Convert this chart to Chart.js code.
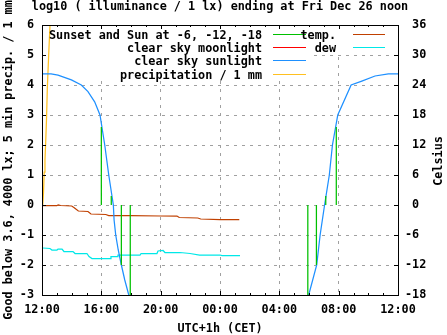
<!DOCTYPE html>
<html>
<head>
<meta charset="utf-8">
<script src="https://cdn.jsdelivr.net/npm/chart.js@4"></script>
<style>
  html, body { margin: 0; padding: 0; background: #fff; }
  canvas { display: block; }
</style>
</head>
<body>
<canvas id="myChart" width="447" height="335"></canvas>
<script>
const FONT = '"DejaVu Sans Mono", "Liberation Mono", monospace';
const FS = 11.8;

// x values are hours after Thu Dec 25 12:00 (CET)
var sunHours = [0, 0.61, 1.08, 1.98, 2.65, 3.10, 3.55, 3.91, 4.23, 4.50, 4.81, 4.86, 4.97, 5.14, 5.35, 5.58, 5.85, 6.0,
                17.85, 17.98, 18.52, 18.75, 19.05, 19.37, 19.58, 19.94, 20.84, 21.56, 22.45, 23.35, 24];
var sunLog = [4.37, 4.37, 4.33, 4.17, 4.0, 3.78, 3.44, 3.0, 2.0, 1.0, 0, -0.5, -1.0, -1.5, -2.0, -2.5, -3.0, -3.4,
              -3.4, -3.0, -2.0, -1.0, 0, 1.0, 2.0, 3.0, 4.0, 4.13, 4.30, 4.37, 4.37];

var moonHours = [];
var moonLog = [];

var precipHours = [0.05, 0.10, 0.15, 0.20, 0.25, 0.30, 0.36, 0.45, 0.54, 0.60];
var precipMm = [0, 0.4, 1.1, 1.5, 2.1, 2.8, 3.9, 5.0, 6.0, 6.6];

// sunset, sun at -6, -12, -18 and back up in the morning
var twilightHours = [4.00, 4.67, 5.35, 5.95, 17.92, 18.50, 19.13, 19.84];
var twilightLog = [2.6, 0.3, -2.0, -3.3, -3.3, -2.0, 0.3, 2.6];

var tempHours = [0, 1.0, 1.1, 1.25, 2.0, 2.15, 2.45, 3.1, 3.3, 4.3, 4.5, 6.0, 8.0, 9.1, 9.25, 10.5, 10.7, 12.0, 13.3];
var tempC = [-0.1, -0.1, 0.0, -0.1, -0.2, -0.5, -1.2, -1.3, -1.8, -1.9, -2.1, -2.1, -2.2, -2.2, -2.5, -2.6, -2.8, -2.9, -2.9];

var dewHours = [0.07, 0.54, 0.67, 1.01, 1.08, 1.35, 1.48, 2.09, 2.23, 3.03, 3.17, 3.37, 4.59, 4.65, 5.06, 5.12, 6.61, 6.68,
                7.75, 7.82, 8.16, 8.29, 9.3, 9.98, 10.62, 12.0, 12.14, 13.35];
var dewC = [-8.6, -8.7, -9.0, -9.0, -8.8, -8.8, -9.3, -9.3, -9.7, -9.7, -10.3, -10.7, -10.7, -10.3, -10.3, -10.0, -10.0, -9.7,
            -9.7, -9.2, -9.1, -9.5, -9.5, -9.7, -10.0, -10.0, -10.1, -10.1];

var titleText = 'log10 ( illuminance / 1 lx) ending at Fri Dec 26 noon';
var yTitle = 'Good below 3.6, 4000 lx; 5 min precip. / 1 mm';
var y2Title = 'Celsius';
var xTitle = 'UTC+1h (CET)';

const pts = (xs, ys) => xs.map((x, i) => ({x: x, y: ys[i]}));

var twilightPts = [];
twilightHours.forEach((h, i) => {
  twilightPts.push({x: h, y: 0}, {x: h, y: twilightLog[i]}, {x: h, y: null});
});

const font = {family: FONT, size: FS, weight: 'bold'};
const cssFont = 'bold ' + FS + 'px ' + FONT;

const gnuplotBits = {
  id: 'gnuplotBits',
  beforeDatasetsDraw(chart) {
    // opaque key box
    const c = chart.ctx, a = chart.chartArea;
    c.save();
    c.fillStyle = '#fff';
    c.fillRect(a.left + 1, a.top + 1, a.right - a.left - 1, 28);
    c.fillRect(a.left + 1, a.top + 1, 267, 54);
    c.restore();
  },
  afterDatasetsDraw(chart) {
    const c = chart.ctx;
    c.save();
    c.font = cssFont;
    c.fillStyle = '#000';
    c.textAlign = 'right';
    c.textBaseline = 'alphabetic';
    chart.data.datasets.forEach((ds, i) => {
      const right = i > 3;
      const row = right ? i - 4 : i;
      const y = Math.round(34 + row * 13.2) + 0.5;
      c.fillText(ds.label, right ? 336 : 262, y + 4.5);
      c.strokeStyle = ds.borderColor;
      c.lineWidth = 1;
      c.beginPath();
      c.moveTo(right ? 353 : 273, y);
      c.lineTo(right ? 385 : 306, y);
      c.stroke();
    });
    c.restore();
  },
  afterDraw(chart) {
    const c = chart.ctx, a = chart.chartArea;
    const xs = chart.scales.x, ys = chart.scales.y;
    c.save();
    c.strokeStyle = '#000';
    c.lineWidth = 1;
    c.beginPath();
    for (let h = 0; h <= 24; h++) {
      const px = Math.round(xs.getPixelForValue(h)) + 0.5;
      const len = h % 4 === 0 ? 4 : 2;
      c.moveTo(px, a.bottom); c.lineTo(px, a.bottom - len);
      c.moveTo(px, a.top); c.lineTo(px, a.top + len);
    }
    for (let v = -3; v <= 6; v++) {
      const py = Math.round(ys.getPixelForValue(v)) + 0.5;
      c.moveTo(a.left, py); c.lineTo(a.left + 4, py);
      c.moveTo(a.right, py); c.lineTo(a.right - 4, py);
    }
    c.stroke();
    c.strokeRect(a.left + 0.5, a.top + 0.5, a.right - a.left, a.bottom - a.top);

    c.fillStyle = '#000';
    c.font = cssFont;
    c.textAlign = 'center';
    c.textBaseline = 'alphabetic';
    c.fillText(titleText, 220, 10);
    c.fillText(xTitle, 220, 332);
    c.textBaseline = 'middle';
    c.translate(9, 160);
    c.rotate(-Math.PI / 2);
    c.fillText(yTitle, 0, 0);
    c.rotate(Math.PI / 2);
    c.translate(430, 1);
    c.rotate(-Math.PI / 2);
    c.fillText(y2Title, 0, 0);
    c.restore();
  }
};

const lineDs = (label, data, color, axis) => ({
  label: label,
  data: data,
  borderColor: color,
  backgroundColor: color,
  borderWidth: 1.25,
  pointRadius: 0,
  tension: 0,
  fill: false,
  spanGaps: false,
  yAxisID: axis
});

var config = {
  type: 'line',
  data: {
    datasets: [
      lineDs('Sunset and Sun at -6, -12, -18', twilightPts, '#00c000', 'y'),
      lineDs('clear sky moonlight', pts(moonHours, moonLog), '#ff0000', 'y'),
      lineDs('clear sky sunlight', pts(sunHours, sunLog), '#1e90ff', 'y'),
      lineDs('precipitation / 1 mm', pts(precipHours, precipMm), '#ffc020', 'y'),
      lineDs('temp.', pts(tempHours, tempC), '#c04000', 'y2'),
      lineDs('dew', pts(dewHours, dewC), '#00e8e8', 'y2')
    ]
  },
  options: {
    responsive: false,
    animation: false,
    devicePixelRatio: 1,
    layout: { padding: { top: 25, left: 0, right: 0, bottom: 0 } },
    plugins: { legend: { display: false }, tooltip: { enabled: false }, title: { display: false } },
    scales: {
      x: {
        type: 'linear', min: 0, max: 24,
        afterFit: s => { s.height = 40; },
        grid: { color: '#a0a0a0', drawTicks: false },
        border: { display: false, dash: [3, 5] },
        ticks: {
          stepSize: 4, autoSkip: false, maxRotation: 0, padding: 8, color: '#000', font: font,
          callback: v => String((12 + v) % 24).padStart(2, '0') + ':00'
        }
      },
      y: {
        position: 'left', min: -3, max: 6,
        afterFit: s => { s.width = 42; },
        grid: { color: '#a0a0a0', drawTicks: false },
        border: { display: false, dash: [3, 5] },
        ticks: { stepSize: 1, padding: 8, color: '#000', font: font }
      },
      y2: {
        position: 'right', min: -18, max: 36,
        afterFit: s => { s.width = 49; },
        grid: { display: false, drawTicks: false },
        border: { display: false },
        ticks: { stepSize: 6, padding: 7, color: '#000', font: font,
          callback: v => (v >= 0 ? ' ' : '') + v }
      }
    }
  },
  plugins: [gnuplotBits]
};

const chart = new Chart(document.getElementById('myChart').getContext('2d'), config);
</script>
</body>
</html>
